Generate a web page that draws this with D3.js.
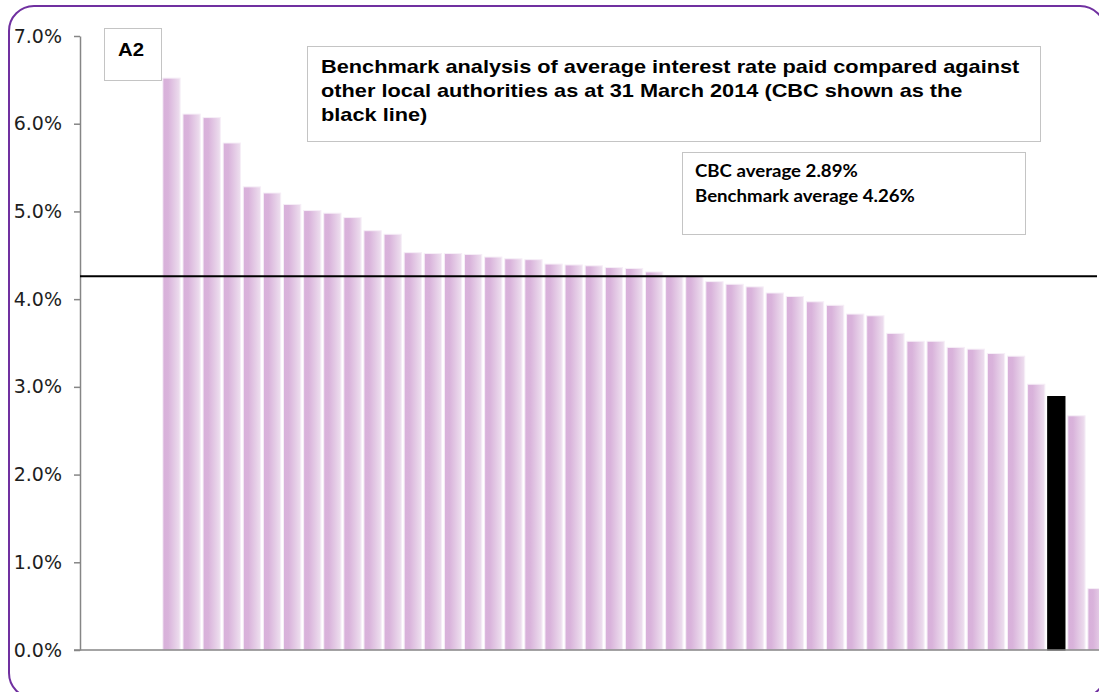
<!DOCTYPE html>
<html>
<head>
<meta charset="utf-8">
<script src="https://cdn.jsdelivr.net/npm/d3@7"></script>
<style>
  html, body { margin: 0; padding: 0; background: #ffffff; overflow: hidden; }
  svg { display: block; }
</style>
</head>
<body>
<svg id="chart" width="1099" height="692"></svg>
<script>
// Category slots along the x axis (first four are left empty)
const authorities = d3.range(51).map(i => "LA" + (i + 1));

// Average interest rate paid (%) per authority, sorted high to low
const rates = [
  null, null, null, null,
  6.52, 6.11, 6.07, 5.78, 5.28, 5.21, 5.08, 5.01, 4.98, 4.93,
  4.78, 4.74, 4.53, 4.52, 4.52, 4.51, 4.48, 4.46, 4.45, 4.40,
  4.39, 4.38, 4.36, 4.35, 4.31, 4.27, 4.26, 4.20, 4.17, 4.14,
  4.07, 4.03, 3.97, 3.93, 3.83, 3.81, 3.61, 3.52, 3.52, 3.45,
  3.43, 3.38, 3.35, 3.03, 2.89, 2.67, 0.70
];

// Slot holding CBC (drawn in black)
const cbcSlot = "LA49";
const cbcAverage = 2.89;
const benchmarkAverage = 4.26;

const yTicks = [0, 1, 2, 3, 4, 5, 6, 7];

const panelLabel = ["A2"];
const titleLines = [
  "Benchmark analysis of average interest rate paid compared against",
  "other local authorities as at 31 March 2014 (CBC shown as the",
  "black line)"
];
const noteLines = [
  "CBC average " + cbcAverage.toFixed(2) + "%",
  "Benchmark average " + benchmarkAverage.toFixed(2) + "%"
];

const rows = authorities.map((id, i) => ({ id, value: rates[i] }))
  .filter(d => d.value !== null);

const svg = d3.select("#chart");

// Outer rounded frame
svg.append("rect")
  .attr("x", 9).attr("y", 6)
  .attr("width", 1096).attr("height", 692)
  .attr("rx", 25).attr("ry", 25)
  .attr("fill", "#ffffff")
  .attr("stroke", "#7030a0")
  .attr("stroke-width", 2);

// Bar gradient
const defs = svg.append("defs");
const grad = defs.append("linearGradient")
  .attr("id", "barFill")
  .attr("x1", "0%").attr("x2", "100%")
  .attr("y1", "0%").attr("y2", "0%");
grad.append("stop").attr("offset", "0%").attr("stop-color", "#d8b0da");
grad.append("stop").attr("offset", "30%").attr("stop-color", "#d9b3db");
grad.append("stop").attr("offset", "100%").attr("stop-color", "#eee0ef");

const axisX = 80;
const x = d3.scaleBand()
  .domain(authorities)
  .range([81, 81 + authorities.length * 20.11])
  .paddingInner(0.14)
  .paddingOuter(0.07);

const y = d3.scaleLinear()
  .domain([0, 7])
  .range([650, 36]);

// Bars
svg.append("g")
  .selectAll("rect")
  .data(rows)
  .join("rect")
  .attr("x", d => x(d.id))
  .attr("y", d => y(d.value))
  .attr("width", x.bandwidth())
  .attr("height", d => y(0) - y(d.value))
  .attr("fill", d => d.id === cbcSlot ? "#000000" : "url(#barFill)")
  .attr("stroke", d => d.id === cbcSlot ? "#000000" : "#f6eef7")
  .attr("stroke-width", 1);

// Category baseline
svg.append("line")
  .attr("x1", axisX - 6).attr("x2", 1099)
  .attr("y1", y(0)).attr("y2", y(0))
  .attr("stroke", "#868686")
  .attr("stroke-width", 1.5);

// Value axis
const yAxis = svg.append("g")
  .attr("transform", `translate(${axisX},0)`)
  .call(d3.axisLeft(y)
    .tickValues(yTicks)
    .tickSize(6)
    .tickSizeOuter(0)
    .tickPadding(12)
    .tickFormat(d => d.toFixed(1) + "%"));
yAxis.select(".domain").attr("stroke", "#868686").attr("stroke-width", 1.5);
yAxis.selectAll(".tick line").attr("stroke", "#868686").attr("stroke-width", 1.5);
yAxis.selectAll(".tick text")
  .attr("fill", "#1e1e1e")
  .style("font-family", "'DejaVu Sans', Verdana, sans-serif")
  .style("font-size", "19px");

// Benchmark average line
svg.append("line")
  .attr("x1", axisX).attr("x2", 1097)
  .attr("y1", y(benchmarkAverage)).attr("y2", y(benchmarkAverage))
  .attr("stroke", "#000000")
  .attr("stroke-width", 2);

// Text block whose glyphs are widened so one reference line spans a given width
function textBlock(lines, opts) {
  const g = svg.append("g");
  const t = g.selectAll("text")
    .data(lines)
    .join("text")
    .attr("x", 0)
    .attr("y", (d, i) => opts.y0 + i * (opts.dy || 0))
    .attr("text-anchor", opts.anchor || "start")
    .style("font-family", opts.family)
    .style("font-weight", "bold")
    .style("font-size", opts.size + "px")
    .attr("fill", "#000000")
    .text(d => d);
  const w = t.nodes()[opts.fitLine].getComputedTextLength();
  const sx = w > 0 ? opts.width / w : 1;
  g.attr("transform", `translate(${opts.x},0) scale(${sx},1)`);
  return g;
}

// Panel label box
svg.append("rect")
  .attr("x", 104.5).attr("y", 28.5)
  .attr("width", 57).attr("height", 52)
  .attr("fill", "#ffffff")
  .attr("stroke", "#c4c4c4").attr("stroke-width", 1);
textBlock(panelLabel, {
  x: 131, y0: 56, size: 18, anchor: "middle",
  family: "'Liberation Sans', Arial, sans-serif",
  fitLine: 0, width: 26
});

// Title box
svg.append("rect")
  .attr("x", 307.5).attr("y", 46.5)
  .attr("width", 733).attr("height", 95)
  .attr("fill", "#ffffff")
  .attr("stroke", "#c4c4c4").attr("stroke-width", 1);
textBlock(titleLines, {
  x: 321, y0: 73.5, dy: 24, size: 19,
  family: "'Liberation Sans', Arial, sans-serif",
  fitLine: 0, width: 699
});

// Averages note box
svg.append("rect")
  .attr("x", 682.5).attr("y", 152.5)
  .attr("width", 343).attr("height", 82)
  .attr("fill", "#ffffff")
  .attr("stroke", "#c4c4c4").attr("stroke-width", 1);
textBlock(noteLines, {
  x: 695, y0: 177, dy: 25, size: 16.5,
  family: "Lato, 'Open Sans', sans-serif",
  fitLine: 1, width: 220
});
</script>
</body>
</html>
